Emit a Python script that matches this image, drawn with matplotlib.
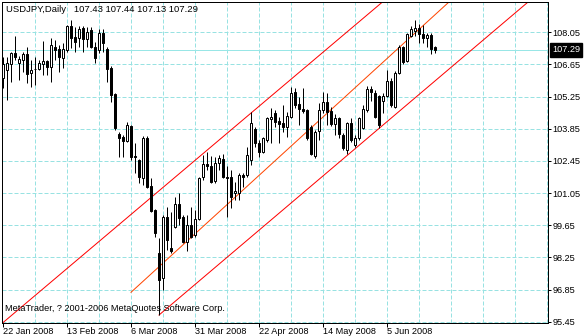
import matplotlib
matplotlib.use("Agg")
import matplotlib.pyplot as plt
import matplotlib.transforms as mtransforms
import pandas as pd
import numpy as np

# ---------------- data ----------------
symbol_title = "USDJPY,Daily   107.43 107.44 107.13 107.29"
copyright_text = "MetaTrader, ? 2001-2006 MetaQuotes Software Corp."

opens = [106.06, 106.40, 106.66, 107.14, 106.71, 106.84, 107.10, 106.27, 106.45, 106.45,
         106.66, 106.79, 106.53, 107.40, 107.32, 106.92, 107.27, 108.32, 107.84, 107.80,
         108.23, 107.75, 108.15, 107.40, 107.27, 108.02, 107.32, 106.49, 105.36, 103.62,
         103.49, 103.31, 103.97, 102.66, 102.49, 101.70, 103.44, 101.35, 100.31, 98.44,
         97.35, 100.00, 98.66, 99.57, 100.57, 100.00, 98.92, 99.66, 99.22, 99.92,
         101.75, 102.31, 102.22, 101.57, 102.36, 102.53, 101.75, 101.75, 101.05, 101.05,
         101.83, 101.83, 102.49, 103.84, 103.23, 102.83, 103.36, 104.27, 104.53, 104.18,
         104.10, 103.92, 104.36, 105.45, 104.92, 104.71, 104.66, 103.92, 102.66, 103.75,
         104.66, 105.01, 104.62, 104.05, 104.31, 103.57, 102.92, 104.10, 103.14, 103.44,
         103.88, 104.66, 105.58, 105.40, 105.27, 105.05, 105.27, 105.92, 104.79, 106.27,
         107.40, 106.79, 107.88, 108.10, 108.23, 107.97, 107.80, 107.93, 107.43]
highs = [106.97, 106.97, 107.19, 107.88, 107.01, 107.19, 107.40, 106.84, 106.97, 106.84,
         107.67, 106.84, 107.80, 107.71, 107.49, 107.58, 108.37, 108.58, 108.28, 108.32,
         108.32, 108.28, 108.28, 107.62, 108.19, 108.19, 107.40, 106.58, 105.40, 103.70,
         103.57, 104.14, 104.01, 103.23, 102.53, 103.53, 103.53, 101.70, 100.35, 99.09,
         100.09, 100.44, 100.22, 100.88, 101.05, 100.09, 100.09, 100.44, 100.31, 101.75,
         102.70, 102.83, 102.66, 102.62, 102.70, 102.75, 102.22, 102.05, 101.53, 101.92,
         101.92, 103.05, 104.58, 103.92, 103.36, 103.49, 104.36, 104.75, 104.66, 104.36,
         104.88, 104.58, 105.66, 105.62, 105.23, 105.62, 104.71, 104.01, 103.79, 104.97,
         105.45, 105.40, 104.79, 104.49, 104.36, 103.66, 104.14, 104.31, 103.57, 104.36,
         104.88, 105.71, 105.71, 105.53, 105.31, 105.40, 106.40, 106.06, 106.36, 107.49,
         107.45, 108.02, 108.32, 108.58, 108.41, 108.37, 108.02, 108.02, 107.44]
lows = [105.62, 105.10, 105.88, 106.84, 105.97, 106.32, 105.84, 105.66, 105.75, 106.40,
        106.19, 106.19, 105.88, 106.84, 106.32, 106.49, 107.19, 107.36, 107.19, 107.40,
        107.19, 107.40, 107.36, 106.71, 107.14, 107.19, 105.88, 105.01, 103.79, 102.62,
        102.62, 103.27, 102.49, 101.92, 101.48, 101.40, 101.27, 100.22, 99.13, 95.74,
        96.83, 98.57, 98.44, 99.53, 99.66, 98.87, 98.52, 99.09, 99.13, 99.87,
        101.62, 102.05, 101.48, 101.48, 102.05, 101.70, 100.00, 100.40, 100.74, 100.74,
        101.31, 101.75, 102.27, 103.05, 102.62, 102.79, 103.27, 103.23, 103.92, 103.23,
        103.70, 103.49, 104.31, 104.75, 104.01, 104.53, 103.36, 102.70, 102.57, 103.36,
        104.53, 104.01, 103.97, 103.57, 103.44, 102.92, 102.75, 103.27, 103.05, 103.36,
        103.84, 104.58, 105.05, 104.31, 103.88, 104.53, 105.23, 104.79, 104.75, 106.23,
        106.66, 106.75, 107.84, 107.88, 107.58, 107.58, 107.40, 107.10, 107.13]
closes = [106.66, 106.71, 107.14, 106.97, 106.88, 107.10, 106.23, 106.40, 106.44, 106.71,
          106.79, 106.53, 107.49, 107.27, 106.97, 107.32, 108.32, 107.80, 107.62, 108.19,
          107.75, 108.06, 107.40, 106.92, 108.02, 107.58, 106.45, 105.31, 103.88, 103.44,
          103.31, 104.01, 102.62, 102.62, 101.75, 103.44, 101.31, 100.27, 99.31, 97.26,
          100.00, 99.00, 98.52, 100.57, 99.96, 98.92, 99.66, 99.13, 99.92, 101.70,
          102.31, 102.22, 101.53, 102.36, 102.57, 101.75, 101.70, 100.88, 101.14, 101.83,
          101.75, 102.70, 104.10, 103.23, 102.83, 103.44, 104.31, 104.36, 104.14, 104.05,
          103.92, 104.40, 105.40, 104.88, 104.71, 104.62, 103.44, 102.75, 103.70, 104.66,
          105.01, 104.58, 104.05, 104.31, 103.62, 103.01, 104.10, 103.36, 103.44, 104.31,
          104.71, 105.58, 105.45, 104.36, 104.01, 105.27, 105.92, 104.88, 106.27, 107.40,
          106.75, 107.97, 108.19, 108.23, 107.97, 107.80, 107.93, 107.32, 107.29]

last_price = 107.29
price_ticks = [95.45, 96.85, 98.25, 99.65, 101.05, 102.45, 103.85, 105.25, 106.65, 108.05]

# trading days (Good Friday 21 Mar 2008 absent)
dates = [d for d in pd.bdate_range("2008-01-22", "2008-06-23") if d != pd.Timestamp("2008-03-21")]
date_label_idx = [0, 16, 32, 48, 64, 80, 96]

# channel lines: (start index, start price, second index, second price)
upper_line = (28, 99.53, 94, 109.24)
middle_line = (32, 96.73, 110, 109.13)
lower_line = (39, 95.74, 130, 109.18)

# ---------------- figure ----------------
plt.rcParams['font.family'] = ['Liberation Sans', 'DejaVu Sans']
W, H = 584, 336
fig = plt.figure(figsize=(W / 100, H / 100), dpi=100)
L_px, R_px, T_px, B_px = 2, 548, 2, 322.5
ax = fig.add_axes([L_px / W, (H - B_px) / H, (R_px - L_px) / W, (B_px - T_px) / H])

px_per_bar = 4.0
x0 = -0.25
x1 = x0 + (R_px - L_px) / px_per_bar
ax.set_xlim(x0, x1)
ppp = 1.4 / 32.16  # price per pixel
ymin = 95.45 - (B_px - 321.7) * ppp
ymax = 95.45 + (321.7 - T_px) * ppp
ax.set_ylim(ymin, ymax)

lw = 0.72
grid_col = '#98e2e2'

# grid
for p in price_ticks:
    ax.axhline(p, color=grid_col, lw=lw, ls=(0, (4, 2)), zorder=0)
for gx in range(8, int(x1) + 1, 8):
    ax.axvline(gx, color=grid_col, lw=lw, ls=(0, (4, 2)), zorder=0)
ax.axhline(last_price, color='#98e6e6', lw=lw, zorder=0.5)

# channel lines
def draw_ray(line, color, start_at_anchor=True):
    xa, ya, xb, yb = line
    slope = (yb - ya) / (xb - xa)
    xs = np.array([xa if start_at_anchor else x0 - 5, x1 + 5])
    ax.plot(xs, ya + slope * (xs - xa), color=color, lw=lw, zorder=1)

draw_ray(upper_line, '#ff0000', start_at_anchor=False)
draw_ray(middle_line, '#ff4500')
draw_ray(lower_line, '#ff0000')

# candles
idx = np.arange(len(closes))
ax.vlines(idx, lows, highs, color='black', lw=lw, zorder=2)
o = np.array(opens); c = np.array(closes)
bottoms = np.minimum(o, c)
heights = np.abs(c - o)
faces = ['white' if cc > oo else 'black' for oo, cc in zip(o, c)]
ax.bar(idx, heights, bottom=bottoms, width=0.5, color=faces, edgecolor='black',
       linewidth=lw, zorder=3)

# axes styling
for s in ax.spines.values():
    s.set_color('black')
    s.set_linewidth(lw)
ax.yaxis.tick_right()
ax.set_yticks(price_ticks)
ax.set_yticklabels([f"{p:.2f}" for p in price_ticks])
ax.tick_params(axis='y', direction='out', length=2.2, width=lw, pad=1.2,
               labelsize=6.6, colors='black')
ax.set_xticks(date_label_idx)
ax.set_xticklabels([f"{dates[i].day} {dates[i].strftime('%b %Y')}" for i in date_label_idx])
ax.tick_params(axis='x', direction='out', length=3, width=lw, pad=0.5,
               labelsize=6.6, colors='black')
for t in ax.get_xticklabels():
    t.set_ha('left')

# texts
ax.text(4 / (R_px - L_px), 1 - 3 / (B_px - T_px), symbol_title, transform=ax.transAxes,
        ha='left', va='top', fontsize=6.8, color='black', zorder=5)
ax.text(3 / (R_px - L_px), 14 / (B_px - T_px), copyright_text, transform=ax.transAxes,
        ha='left', va='center', fontsize=6.6, color='black', zorder=5)

trans = mtransforms.blended_transform_factory(ax.transAxes, ax.transData)
ax.text(1 + 4 / (R_px - L_px), last_price, f"{last_price:.2f}", transform=trans,
        ha='left', va='center', fontsize=6.6, color='white', zorder=6,
        bbox=dict(boxstyle='square,pad=0.25', facecolor='black', edgecolor='black'),
        clip_on=False)

fig.savefig("out.png", dpi=100, facecolor='white')
